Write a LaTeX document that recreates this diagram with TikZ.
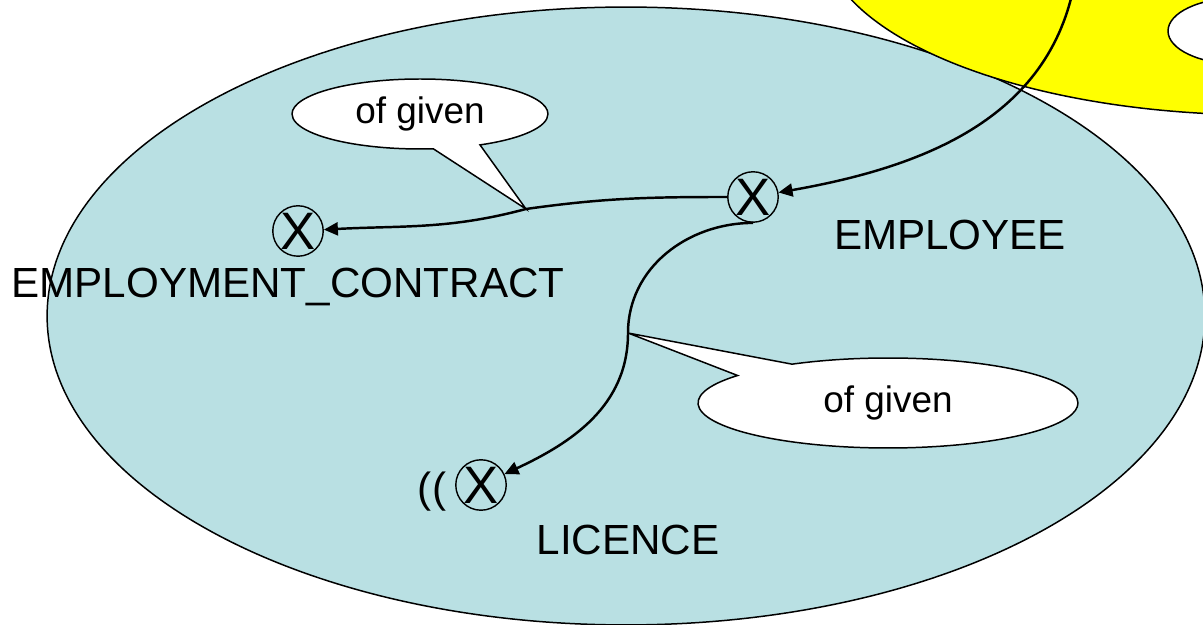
\documentclass[tikz,border=0pt]{standalone}
\usepackage{fontspec}
\setmainfont{Liberation Sans}
\usetikzlibrary{shapes.callouts,arrows.meta}
\definecolor{setblue}{RGB}{185,224,227}
\definecolor{setyellow}{RGB}{255,255,0}

\begin{document}
\begin{tikzpicture}[x=0.02cm,y=0.02cm,
    xmark/.style={circle,draw,line width=0.8pt,inner sep=0pt,minimum size=0.92cm,font=\fontsize{30}{32}\selectfont},
    setlabel/.style={anchor=base,font=\fontsize{24}{28}\selectfont},
    bubble/.style={ellipse callout,draw,fill=white,line width=0.85pt,inner sep=0pt,callout pointer arc=22,font=\fontsize{21}{25}\selectfont},
    conn/.style={line width=1.4pt,-{Triangle[length=0.28cm,width=0.26cm]}}]
  \useasboundingbox (0,0) rectangle (1203,625);
  \clip (0,0) rectangle (1203,625);
  % the sets
  \draw[fill=setblue,line width=0.85pt] (626,309) ellipse [x radius=11.58cm,y radius=6.18cm];
  \draw[fill=setyellow,line width=0.85pt] (1262,690) ellipse [x radius=8.8cm,y radius=3.6cm];
  \draw[fill=white,line width=0.85pt] (1238,594) ellipse [x radius=1.4cm,y radius=0.66cm];
  % entities and their names
  \node[xmark] (employee) at (753,428) {X};
  \node[xmark] (contract) at (298,394) {X};
  \node[xmark] (licence) at (481,140) {X};
  \node[setlabel] (employeename) at (950,375) {EMPLOYEE};
  \node[setlabel] (contractname) at (288,327) {EMPLOYMENT\_CONTRACT};
  \node[setlabel] (licencename) at (628,70) {LICENCE};
  \node[setlabel] (parens) at (432,122) {((};
  % the roles
  \coordinate (given1) at (526,416);
  \coordinate (given2) at (628,292);
  \coordinate (outside) at (1075,645);
  \node[bubble,minimum width=5.12cm,minimum height=1.4cm,callout absolute pointer=(given1)] (bubble1) at (420,511) {of given};
  \node[bubble,minimum width=7.6cm,minimum height=1.8cm,callout absolute pointer=(given2)] (bubble2) at (888,222) {of given};
  \draw[conn] (outside) to[out=-100,in=10] (employee);
  \draw[conn] (employee.west) to[out=180,in=8] (given1) to[out=-165,in=3] (contract);
  \draw[conn] (employee.south) to[out=180,in=90] (given2) to[out=-90,in=25] (licence);
\end{tikzpicture}
\end{document}
